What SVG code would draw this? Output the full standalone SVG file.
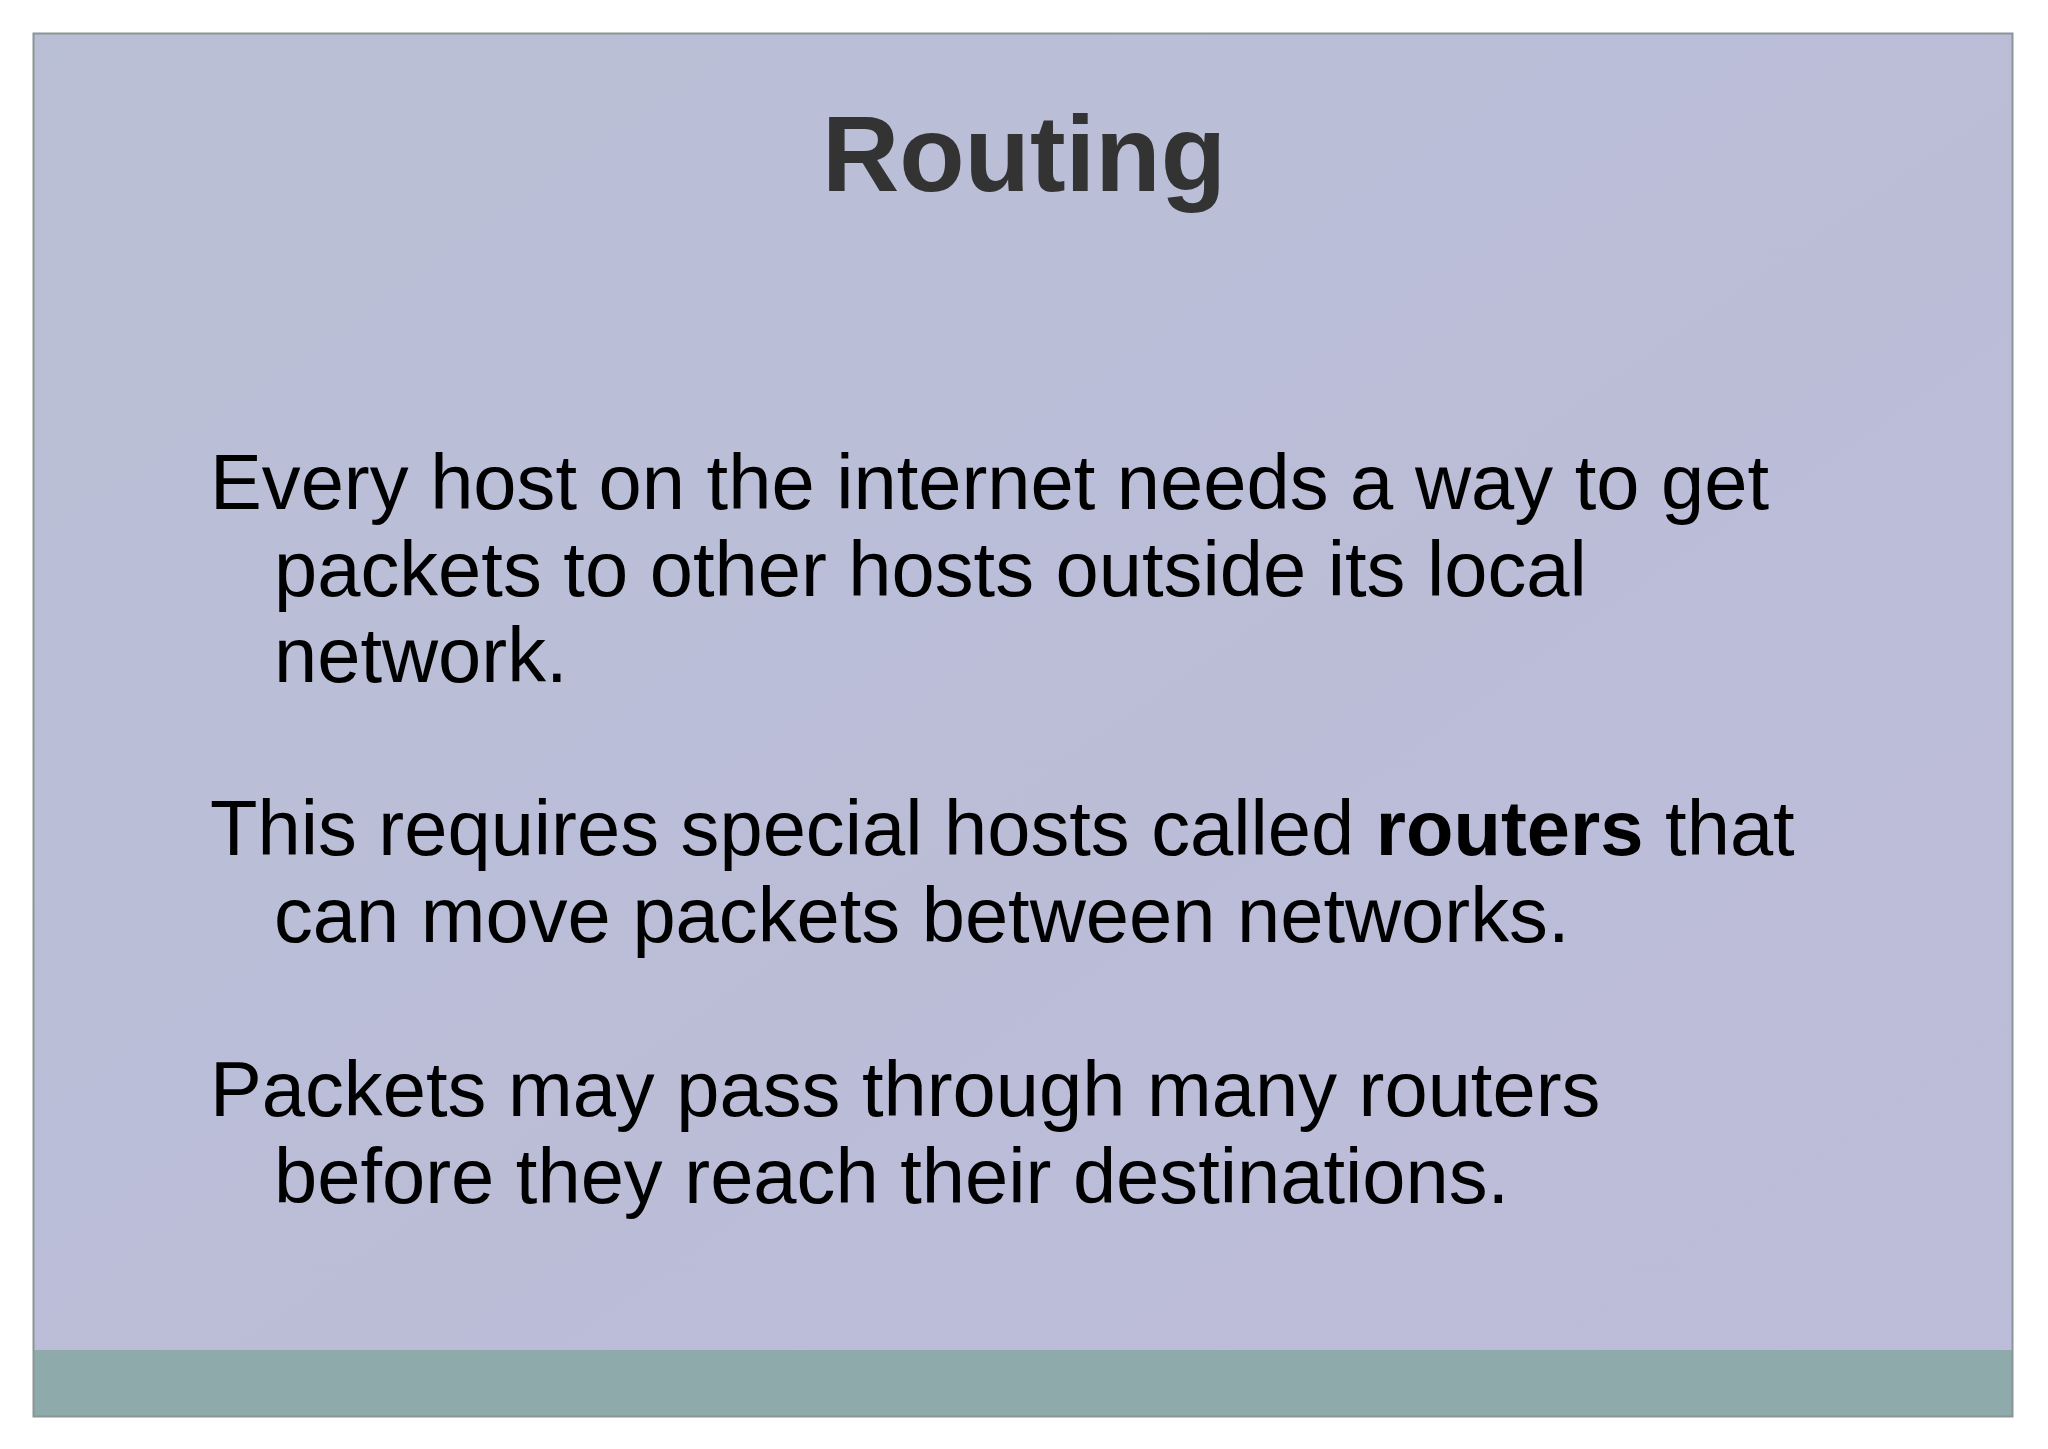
<svg xmlns="http://www.w3.org/2000/svg" width="2048" height="1449" viewBox="0 0 2048 1449">
<defs>
<linearGradient id="bg" x1="0" y1="0" x2="1" y2="1">
<stop offset="0" stop-color="#B9BFD5"/>
<stop offset="1" stop-color="#BDBCDA"/>
</linearGradient>
</defs>
<style>
.title{font-family:"Liberation Sans",Arial,sans-serif;font-weight:bold;font-size:107px;fill:#333333;}
.body{font-family:"Liberation Sans",Arial,sans-serif;font-size:77.7px;fill:#000000;}
.b{font-weight:bold;}
</style>
<rect x="0" y="0" width="2048" height="1449" fill="#FFFFFF"/>
<g id="slide">
<rect x="33.5" y="33.5" width="1979" height="1383" fill="url(#bg)"/>
<rect x="33.5" y="1350" width="1979" height="66.5" fill="#8EAAAA"/>
<rect x="33.5" y="33.5" width="1979" height="1383" fill="none" stroke="#8A9696" stroke-width="2"/>
</g>
<g id="title">
<text class="title" x="1024" y="191" text-anchor="middle">Routing</text>
</g>
<g id="para1">
<text class="body" x="210" y="509">Every host on the internet needs a way to get</text>
<text class="body" x="274" y="596">packets to other hosts outside its local</text>
<text class="body" x="274" y="682">network.</text>
</g>
<g id="para2">
<text class="body" x="210" y="855">This requires special hosts called <tspan class="b">routers</tspan> that</text>
<text class="body" x="274" y="942">can move packets between networks.</text>
</g>
<g id="para3">
<text class="body" x="210" y="1116">Packets may pass through many routers</text>
<text class="body" x="274" y="1203">before they reach their destinations.</text>
</g>
<g id="connectors"/>
</svg>
